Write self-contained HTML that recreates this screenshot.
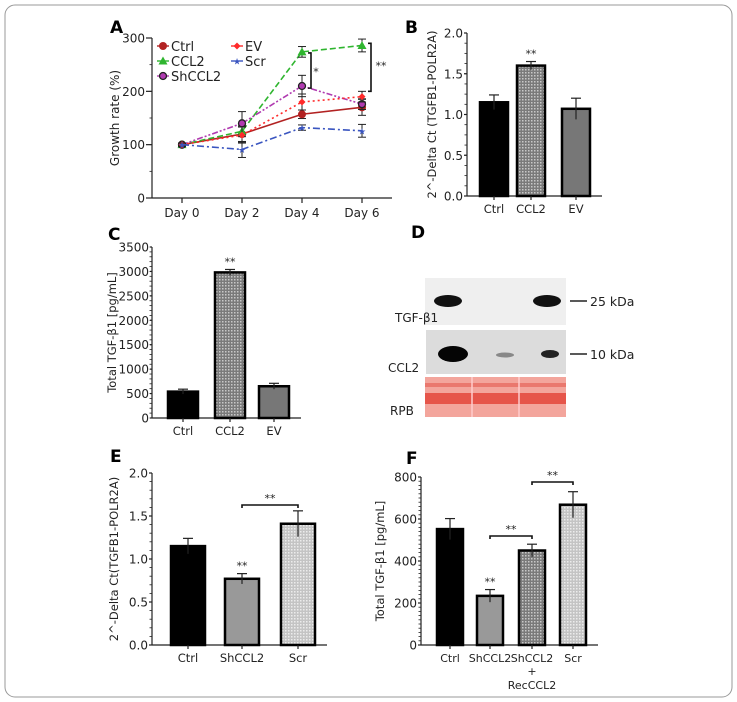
<!DOCTYPE html>
<html><head><meta charset="utf-8"><style>
body{margin:0;background:#fff}
svg{display:block;font-family:"DejaVu Sans","Liberation Sans",sans-serif}
</style></head><body>
<svg id="fig" width="737" height="702" viewBox="0 0 737 702">
<defs>
<pattern id="dots" width="3" height="3" patternUnits="userSpaceOnUse"><rect width="3" height="3" fill="#7a7a7a"/><rect width="1.5" height="1.5" fill="#c8c8c8"/></pattern>
<pattern id="light" width="3" height="3" patternUnits="userSpaceOnUse"><rect width="3" height="3" fill="#c4c4c4"/><rect width="1.5" height="1.5" fill="#ececec"/></pattern>
</defs>
<rect x="5" y="5" width="727" height="692" rx="10" fill="#fff" stroke="#999"/>
<g id="root"></g>
</svg>
<script>
// Panel A data
const daysA=["Day 0","Day 2","Day 4","Day 6"];
const ctrlA=[100,120,157,170], ctrlErr=[3,15,8,15];
const ccl2A=[100,125,274,286], ccl2Err=[3,10,10,12];
const shA=[100,140,210,176], shErr=[3,22,20,10];
const evA=[100,118,180,190], evErr=[3,15,15,10];
const scrA=[100,91,132,126], scrErr=[3,15,5,12];
const ticksA=[0,100,200,300];
// Panel B
const catsB=["Ctrl","CCL2","EV"], valsB=[1.15,1.6,1.07], errB=[0.09,0.05,0.13], ticksB=[0,0.5,1.0,1.5,2.0];
// Panel C
const catsC=["Ctrl","CCL2","EV"], valsC=[540,2980,650], errC=[50,60,60], ticksC=[0,500,1000,1500,2000,2500,3000,3500];
// Panel E
const catsE=["Ctrl","ShCCL2","Scr"], valsE=[1.15,0.77,1.41], errE=[0.09,0.06,0.15], ticksE=[0,0.5,1.0,1.5,2.0];
// Panel F
const catsF=["Ctrl","ShCCL2","ShCCL2","Scr"], valsF=[552,234,450,668], errF=[50,30,30,62], ticksF=[0,200,400,600,800];

const NS="http://www.w3.org/2000/svg", root=document.getElementById('root');
function el(t,a,p){const e=document.createElementNS(NS,t);for(const k in a)e.setAttribute(k,a[k]);(p||root).appendChild(e);return e;}
function txt(s,x,y,a,p){const e=el('text',Object.assign({x:x,y:y,'font-size':11.5,fill:'#222'},a||{}),p);e.textContent=s;return e;}
function line(x1,y1,x2,y2,a,p){return el('line',Object.assign({x1,y1,x2,y2,stroke:'#222','stroke-width':1.2},a||{}),p);}
function fmt(v){return Number.isInteger(v)?String(v):v.toFixed(1);}
function yAxis(g,x,yTop,yBot,ticks,minorN,fmtF,tl){
  const max=ticks[ticks.length-1],min=ticks[0];
  const sy=v=>yBot-(v-min)/(max-min)*(yBot-yTop);
  line(x,yTop,x,yBot,{},g);
  if(minorN){const step=(ticks[1]-ticks[0])/minorN;for(let v=min;v<=max+1e-9;v+=step)line(x-2.5,sy(v),x,sy(v),{'stroke-width':0.8},g);}
  const L=tl||5;
  ticks.forEach(t=>{line(x-L,sy(t),x,sy(t),{},g);txt((fmtF||fmt)(t),x-L-1,sy(t)+4.5,{'text-anchor':'end','font-size':12},g);});
  return sy;
}
function star(s,x,y,g){txt(s,x,y,{'text-anchor':'middle','font-size':11},g);}

// ---------- Panel A ----------
(function(){
  const g=el('g',{});
  txt('A',110,33,{'font-size':17,'font-weight':'bold',fill:'#000'},g);
  const sy=yAxis(g,152,38,198,ticksA,2,null,6);
  line(152,198,392,198,{},g);
  const sx=i=>182+i*60;
  daysA.forEach((d,i)=>{line(sx(i),198,sx(i),203,{},g);txt(d,sx(i),217,{'text-anchor':'middle','font-size':12},g);});
  txt('Growth rate (%)',0,0,{'text-anchor':'middle','font-size':12,transform:'translate(119,118) rotate(-90)'},g);
  const series=[
    {n:'ctrl',v:ctrlA,e:ctrlErr,c:'#b22222',d:'',m:'circle'},
    {n:'ccl2',v:ccl2A,e:ccl2Err,c:'#2fb52f',d:'6,3',m:'tri'},
    {n:'shccl2',v:shA,e:shErr,c:'#b03ab0',d:'6,2,2,2,2,2',m:'sq'},
    {n:'ev',v:evA,e:evErr,c:'#ff2a2a',d:'2,3',m:'dia'},
    {n:'scr',v:scrA,e:scrErr,c:'#3a55c0',d:'7,3,2,3',m:'star'}];
  function marker(m,x,y,c,p){
    if(m=='circle')el('circle',{cx:x,cy:y,r:4,fill:c},p);
    else if(m=='tri')el('polygon',{points:`${x},${y-4.5} ${x-4.5},${y+3.5} ${x+4.5},${y+3.5}`,fill:c},p);
    else if(m=='sq')el('circle',{cx:x,cy:y,r:3.5,fill:c,stroke:'#222','stroke-width':1.3},p);
    else if(m=='dia')el('polygon',{points:`${x},${y-3.5} ${x+3.5},${y} ${x},${y+3.5} ${x-3.5},${y}`,fill:c},p);
    else txt('★',x,y+3.5,{'text-anchor':'middle','font-size':9,fill:c},p);
  }
  series.forEach(s=>{
    const sg=el('g',{},g);
    el('polyline',{points:s.v.map((v,i)=>sx(i)+','+sy(v)).join(' '),fill:'none',stroke:s.c,'stroke-width':1.6,'stroke-dasharray':s.d},sg);
    s.v.forEach((v,i)=>{
      const x=sx(i),y=sy(v),e=s.e[i];
      line(x,sy(v+e),x,sy(v-e),{'stroke-width':1},sg);line(x-4,sy(v+e),x+4,sy(v+e),{'stroke-width':1},sg);line(x-4,sy(v-e),x+4,sy(v-e),{'stroke-width':1},sg);
      marker(s.m,x,y,s.c,sg);
    });
  });
  const leg=[['Ctrl','circle','#b22222',163,46],['CCL2','tri','#2fb52f',163,61],['ShCCL2','sq','#b03ab0',163,76],['EV','dia','#ff2a2a',237,46],['Scr','star','#3a55c0',237,61]];
  leg.forEach(l=>{const lg=el('g',{},g);
    line(l[3]-6,l[4],l[3]+6,l[4],{stroke:l[2],'stroke-width':1.4},lg);marker(l[1],l[3],l[4],l[2],lg);txt(l[0],l[3]+8,l[4]+5,{'font-size':13},lg);});
  el('path',{d:`M308,${sy(272)} h3 V${sy(206)} h-3`,fill:'none',stroke:'#111','stroke-width':1.6},g);
  star('*',316,sy(239)+5,g);
  el('path',{d:`M368,${sy(290)} h3 V${sy(200)} h-3`,fill:'none',stroke:'#111','stroke-width':1.6},g);
  star('**',381,sy(250)+5,g);
})();

// ---------- bar helper ----------
function bars(name,letter,lx,ly,ax,yTop,yBot,ticks,minorN,cats,vals,errs,barXs,bw,fills,yTitle,titleX,sigs,fmtF,tl,lfs){
  const g=el('g',{});
  txt(letter,lx,ly,{'font-size':17,'font-weight':'bold',fill:'#000'},g);
  const sy=yAxis(g,ax,yTop,yBot,ticks,minorN,fmtF,tl);
  const xe=barXs[barXs.length-1]+bw+12;line(ax,yBot,xe,yBot,{},g);
  cats.forEach((c,i)=>{
    const bg=el('g',{},g);
    const x=barXs[i],y=sy(vals[i]),ye=sy(vals[i]+errs[i]),yl=sy(vals[i]-errs[i]);
    el('rect',{x:x,y:y,width:bw,height:yBot-y,fill:fills[i],stroke:'#000','stroke-width':2.5},bg);
    line(x+bw/2,ye,x+bw/2,yl,{'stroke-width':1.2},bg);line(x+bw/2-5,ye,x+bw/2+5,ye,{'stroke-width':1.2},bg);
    line(x+bw/2,yBot,x+bw/2,yBot+4,{},g);
    txt(c,x+bw/2,yBot+17,{'text-anchor':'middle','font-size':lfs||11.5},g);
  });
  txt(yTitle,0,0,{'text-anchor':'middle','font-size':11.5,transform:`translate(${titleX},${(yTop+yBot)/2}) rotate(-90)`},g);
  (sigs||[]).forEach(s=>{
    if(s.type=='bar'){star('**',barXs[s.i]+bw/2,sy(vals[s.i]+errs[s.i])-4,g);}
    else{const y=s.y,xa=barXs[s.a]+bw/2,xb=barXs[s.b]+bw/2;
      el('path',{d:`M${xa},${y+3} V${y} H${xb} V${y+3}`,fill:'none',stroke:'#111','stroke-width':1.6},g);star('**',(xa+xb)/2,y-3,g);}
  });
  return g;
}
bars('panel-b-bar-chart','B',405,33,467,33,196,ticksB,4,catsB,valsB,errB,[480,517,562],28,['#000','url(#dots)','#777'],'2^-Delta Ct (TGFB1-POLR2A)',436,[{type:'bar',i:1}],v=>v.toFixed(1),3);
bars('panel-c-bar-chart','C',108,240,152,247,418,ticksC,5,catsC,valsC,errC,[168,215,259],30,['#000','url(#dots)','#777'],'Total TGF-β1 [pg/mL]',116,[{type:'bar',i:1}],null,2);
bars('panel-e-bar-chart','E',110,462,152,473,645,ticksE,5,catsE,valsE,errE,[171,225,281],34,['#000','#999','url(#light)'],'2^-Delta Ct(TGFB1-POLR2A)',118,[{type:'bar',i:1},{type:'br',a:1,b:2,y:505}],v=>v.toFixed(1),3);
const gF=bars('panel-f-bar-chart','F',406,464,421,477,645,ticksF,10,catsF,valsF,errF,[437,477,519,560],26,['#000','#999','url(#dots)','url(#light)'],'Total TGF-β1 [pg/mL]',384,[{type:'bar',i:1},{type:'br',a:1,b:2,y:536},{type:'br',a:2,b:3,y:482}],null,3,11);
txt('+',532,675,{'text-anchor':'middle','font-size':11},gF);txt('RecCCL2',532,689,{'text-anchor':'middle','font-size':11},gF);

// ---------- Panel D blot ----------
(function(){
  const g=el('g',{});
  txt('D',411,238,{'font-size':17,'font-weight':'bold',fill:'#000'},g);
  el('rect',{x:425,y:278,width:141,height:47,fill:'#efefef'},g);
  el('ellipse',{cx:448,cy:301,rx:14,ry:6,fill:'#111'},g);
  el('ellipse',{cx:547,cy:301,rx:14,ry:6,fill:'#111'},g);
  el('rect',{x:426,y:330,width:140,height:44,fill:'#dcdcdc'},g);
  el('ellipse',{cx:453,cy:354,rx:15,ry:8,fill:'#050505'},g);
  el('ellipse',{cx:505,cy:355,rx:9,ry:2.5,fill:'#888'},g);
  el('ellipse',{cx:550,cy:354,rx:9,ry:4,fill:'#222'},g);
  el('rect',{x:425,y:377,width:141,height:40,fill:'#f3a59c'},g);
  el('rect',{x:425,y:393,width:141,height:11,fill:'#e6554a'},g);
  el('rect',{x:425,y:383,width:141,height:4,fill:'#ea786e'},g);
  line(472,377,472,417,{stroke:'#fcc','stroke-width':1.5},g);line(519,377,519,417,{stroke:'#fcc','stroke-width':1.5},g);
  line(570,301,587,301,{'stroke-width':1.5},g);txt('25 kDa',590,306,{'font-size':12.5},g);
  line(570,354,587,354,{'stroke-width':1.5},g);txt('10 kDa',590,359,{'font-size':12.5},g);
  txt('TGF-β1',395,322,{'font-size':12},g);txt('CCL2',388,372,{'font-size':12},g);txt('RPB',390,415,{'font-size':12},g);
})();
</script>
</body></html>
